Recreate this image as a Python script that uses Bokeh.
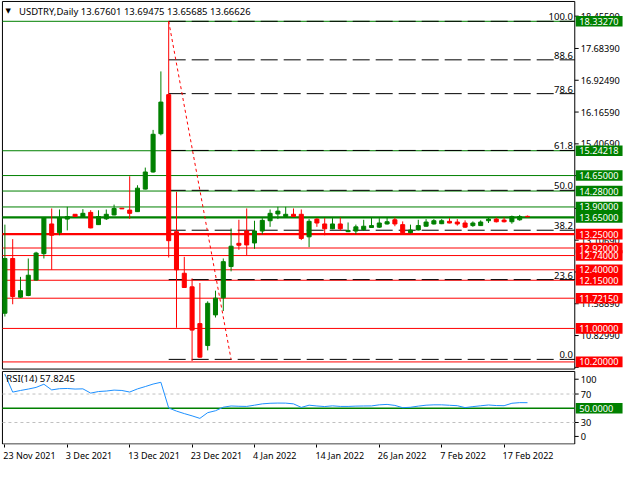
from bokeh.plotting import figure
from bokeh.layouts import column
from bokeh.models import ColumnDataSource, FixedTicker, Label, Range1d
from bokeh.embed import file_html
from bokeh.resources import INLINE
from bokeh.core.properties import value

# ---------------- data ----------------
symbol_title = "USDTRY,Daily"
last_ohlc = ["13.67601", "13.69475", "13.65685", "13.66626"]

opens = [11.363, 12.670, 11.746, 11.786, 12.155, 12.785, 13.494, 13.286, 13.610, 13.725,
         13.663, 13.771, 13.478, 13.617, 13.709, 13.870, 13.825, 13.788, 14.326, 14.735,
         15.649, 16.582, 13.310, 12.317, 11.993, 11.115, 10.591, 11.323, 11.732, 12.478,
         13.032, 13.326, 13.040, 13.326, 13.571, 13.733, 13.672, 13.725, 13.725, 13.187,
         13.610, 13.494, 13.379, 13.494, 13.310, 13.326, 13.360, 13.410, 13.418, 13.494,
         13.594, 13.478, 13.286, 13.350, 13.440, 13.494, 13.500, 13.557, 13.540, 13.517,
         13.455, 13.455, 13.571, 13.610, 13.587, 13.547, 13.594, 13.67601]
highs = [13.478, 13.132, 12.231, 12.670, 12.830, 13.660, 13.864, 13.840, 13.903, 13.730,
         13.848, 13.824, 13.820, 13.840, 13.956, 13.875, 14.633, 14.418, 14.840, 15.740,
         17.136, 18.3327, 14.263, 12.709, 12.194, 12.085, 11.647, 11.901, 12.670, 13.386,
         13.594, 13.864, 13.571, 13.633, 13.840, 13.903, 13.903, 13.864, 13.840, 13.610,
         13.633, 13.633, 13.633, 13.649, 13.530, 13.479, 13.594, 13.655, 13.633, 13.649,
         13.649, 13.555, 13.478, 13.594, 13.610, 13.610, 13.610, 13.633, 13.610, 13.580,
         13.555, 13.580, 13.655, 13.649, 13.649, 13.695, 13.710, 13.69475]
lows = [11.284, 11.577, 11.730, 11.770, 12.140, 12.670, 12.400, 13.224, 13.340, 13.665,
        13.655, 13.390, 13.470, 13.590, 13.700, 13.850, 13.617, 13.780, 14.320, 14.720,
        15.610, 12.693, 11.016, 11.970, 10.222, 10.300, 10.476, 11.261, 11.416, 12.363,
        12.878, 12.748, 12.901, 13.247, 13.425, 13.610, 13.660, 13.660, 13.109, 12.940,
        13.425, 13.224, 13.370, 13.330, 13.300, 13.247, 13.330, 13.400, 13.400, 13.480,
        13.440, 13.270, 13.270, 13.340, 13.430, 13.480, 13.490, 13.510, 13.455, 13.400,
        13.425, 13.445, 13.517, 13.530, 13.530, 13.500, 13.571, 13.65685]
closes = [12.670, 11.762, 11.901, 12.270, 12.800, 13.649, 13.224, 13.649, 13.672, 13.672,
          13.748, 13.400, 13.672, 13.725, 13.864, 13.855, 13.748, 14.349, 14.735, 15.635,
          16.404, 13.095, 12.400, 11.977, 10.960, 10.314, 11.600, 11.723, 12.594, 12.963,
          12.986, 12.993, 13.326, 13.580, 13.748, 13.801, 13.725, 13.672, 13.148, 13.557,
          13.517, 13.379, 13.494, 13.379, 13.340, 13.425, 13.440, 13.455, 13.517, 13.547,
          13.494, 13.286, 13.350, 13.455, 13.540, 13.571, 13.571, 13.517, 13.494, 13.418,
          13.517, 13.540, 13.610, 13.547, 13.547, 13.672, 13.672, 13.66626]
rsi_values = [98.0, 72.7, 75.0, 77.0, 79.3, 83.8, 75.8, 77.5, 77.8, 77.0,
              77.3, 71.3, 73.5, 74.2, 75.5, 75.0, 72.8, 77.2, 80.5, 84.0,
              86.5, 50.4, 46.0, 42.5, 39.3, 35.8, 43.8, 46.5, 51.5, 53.2,
              52.8, 52.6, 54.3, 56.2, 57.0, 57.3, 57.2, 56.2, 51.2, 54.3,
              53.2, 52.4, 53.4, 52.6, 52.6, 53.0, 53.2, 53.3, 54.8, 55.4,
              54.0, 50.8, 51.4, 53.0, 54.3, 54.8, 54.8, 54.2, 53.6, 50.9,
              52.3, 53.5, 54.6, 53.8, 53.6, 57.0, 57.9, 57.8245]
rsi_title = "RSI(14) 57.8245"

date_tick_bars = [0, 8, 16, 24, 32, 40, 48, 56, 64]
date_tick_labels = ["23 Nov 2021", "3 Dec 2021", "13 Dec 2021", "23 Dec 2021", "4 Jan 2022",
                    "14 Jan 2022", "26 Jan 2022", "7 Feb 2022", "17 Feb 2022"]

price_ticks = [18.4559, 17.6839, 16.9249, 16.1659, 15.4069, 14.6479, 13.8659,
               13.1069, 12.3479, 11.5889, 10.8299, 10.0709]

green_levels = [18.3327, 15.24218, 14.65, 14.28, 13.90, 13.65]
red_levels = [13.25, 12.92, 12.74, 12.40, 12.15, 11.7215, 11.00, 10.20]
thick_levels = [13.65, 13.25]

fib_ratios = [0.0, 23.6, 38.2, 50.0, 61.8, 78.6, 88.6, 100.0]
fib_high = 18.3327
fib_low = 10.261
fib_bar_high = 21
fib_bar_low = 29

rsi_dashed_levels = [30, 70]
rsi_mid_level = 50
rsi_axis_values = [0, 30, 70, 100]

# ---------------- layout / calibration (reference pixels -> data) ----------------
W = 624
MAIN_H, RSI_H, RSI_AXIS_H = 370, 94, 19
GREEN, RED, BLUE, SILVER = "#008000", "#FF0000", "#1E90FF", "#C0C0C0"
FONT = "Noto Sans"
FS = "9.5px"
TAG_FS = "9.2px"
BAR_REF, BAR0_REF_X = 8.0, 4.5
AX_REF_X = 589          # price-scale line in the reference
TAG_HALF_REF = 5.5      # half height of a price tag, reference px


def bx(xr):
    """reference x pixel -> bar coordinate"""
    return (xr - BAR0_REF_X) / BAR_REF


def py(yr):
    """reference y pixel -> price (main panel)"""
    return 18.3327 - (yr - 21.5) / 43.3


def ry(yr):
    """reference y pixel -> RSI value (indicator panel)"""
    return 50 - (yr - 422.3) / 0.75


PRICE_PER_REF = 1 / 43.3
RSI_PER_REF = 1 / 0.75

xr = Range1d(bx(0), bx(640))
frame_l, frame_r = bx(2), bx(AX_REF_X)


def text_glyph(fig, xs, ys, texts, color="black", align="left", baseline="middle", fs=FS):
    fig.text(x=xs, y=ys, text=texts, text_font=value(FONT), text_font_size=value(fs),
             text_color=color, text_align=align, text_baseline=baseline)


def price_scale(fig, ticks, labels, label_floor):
    fig.segment(x0=[bx(AX_REF_X)] * len(ticks), x1=[bx(AX_REF_X + 4)] * len(ticks),
                y0=ticks, y1=ticks, line_color="black", line_width=1)
    # a label that would run past the panel's lower edge is nudged up to stay visible
    text_glyph(fig, [bx(595)] * len(ticks), [max(t, label_floor) for t in ticks], labels,
               fs=TAG_FS)


def tags(fig, ys, labels, color, half):
    fig.quad(left=[bx(590)] * len(ys), right=[bx(638)] * len(ys),
             top=[v + half for v in ys], bottom=[v - half for v in ys],
             fill_color=color, line_color=None)
    text_glyph(fig, [bx(593.5)] * len(ys), ys, labels, color="white", fs=TAG_FS)


# ---------------- main price panel ----------------
p = figure(width=W, height=MAIN_H, x_range=xr, y_range=Range1d(py(382.5), py(0)),
           output_backend="svg", toolbar_location=None, tools="",
           x_axis_location=None, y_axis_location=None, min_border=0,
           background_fill_color="white", border_fill_color="white",
           outline_line_color=None)
p.grid.visible = False

# panel frame (right edge = price scale line)
p.quad(left=[frame_l], right=[frame_r], top=[py(1)], bottom=[py(381)],
       fill_color=None, line_color="black", line_width=1)

# horizontal support / resistance lines
lv = green_levels + red_levels
lv_src = ColumnDataSource(dict(
    y=lv,
    color=[GREEN] * len(green_levels) + [RED] * len(red_levels),
    lw=[2.2 if v in thick_levels else 1 for v in lv]))
p.segment(x0=frame_l, x1=frame_r, y0="y", y1="y", line_color="color", line_width="lw",
          source=lv_src)

# fibonacci retracement
fib_prices = [fib_low + r / 100.0 * (fib_high - fib_low) for r in fib_ratios]
fib_src = ColumnDataSource(dict(y=fib_prices, label=["%.1f" % r for r in fib_ratios]))
p.segment(x0=fib_bar_high, x1=frame_r, y0="y", y1="y", line_color="black", line_width=1,
          line_dash="17 6", source=fib_src)
p.text(x=bx(587), y="y", text="label", source=fib_src, text_align="right",
       text_baseline="bottom", text_font=value(FONT), text_font_size=value(FS),
       text_color="black", y_offset=-1)
p.segment(x0=[fib_bar_high], y0=[fib_high], x1=[fib_bar_low], y1=[fib_low],
          line_color=RED, line_width=1, line_dash="3 3")

# candles
bars = list(range(len(opens)))
colors = [GREEN if c >= o else RED for o, c in zip(opens, closes)]
c_src = ColumnDataSource(dict(x=bars, o=opens, h=highs, l=lows, c=closes, color=colors,
                              top=[max(o, c) for o, c in zip(opens, closes)],
                              bot=[min(o, c) for o, c in zip(opens, closes)]))
p.segment(x0="x", x1="x", y0="l", y1="h", line_color="color", line_width=1, source=c_src)
p.vbar(x="x", width=0.52, top="top", bottom="bot", fill_color="color", line_color="color",
       line_width=1, source=c_src)

# header
p.add_layout(Label(x=bx(5), y=py(11), text="\u25bc", text_font="DejaVu Sans",
                   text_font_size="7px", text_color="black", text_baseline="middle"))
p.add_layout(Label(x=bx(19), y=py(11),
                   text=symbol_title + "  " + " ".join(last_ohlc), text_font=FONT,
                   text_font_size=FS, text_color="black", text_baseline="middle"))

# price scale and tags
price_scale(p, price_ticks, ["%.5f" % v for v in price_ticks], py(375.5))
tags(p, green_levels, ["%.5f" % v for v in green_levels], GREEN, TAG_HALF_REF * PRICE_PER_REF)
tags(p, red_levels, ["%.5f" % v for v in red_levels], RED, TAG_HALF_REF * PRICE_PER_REF)

# ---------------- RSI panel ----------------
p2 = figure(width=W, height=RSI_H, x_range=xr, y_range=Range1d(ry(460.5), ry(382.5)),
            output_backend="svg", toolbar_location=None, tools="",
            x_axis_location="below", y_axis_location=None,
            min_border=0, min_border_bottom=RSI_AXIS_H,
            background_fill_color="white", border_fill_color="white",
            outline_line_color=None)
p2.grid.visible = False

p2.quad(left=[frame_l], right=[frame_r], top=[ry(383.5)], bottom=[ry(460)],
        fill_color=None, line_color="black", line_width=1)
p2.segment(x0=frame_l, x1=frame_r, y0=rsi_dashed_levels, y1=rsi_dashed_levels,
           line_color=SILVER, line_width=1, line_dash="3 3")
p2.segment(x0=frame_l, x1=frame_r, y0=[rsi_mid_level], y1=[rsi_mid_level],
           line_color=GREEN, line_width=1.6)
p2.line(x=bars, y=rsi_values, line_color=BLUE, line_width=1)
p2.add_layout(Label(x=bx(6), y=ry(391), text=rsi_title, text_font=FONT,
                    text_font_size=FS, text_color="black", text_baseline="middle"))

# RSI value scale: edge labels sit inside the panel, as in the terminal
rsi_tick_pos = {0: ry(452), 30: 30, 70: 70, 100: ry(391.7)}
price_scale(p2, [rsi_tick_pos[v] for v in rsi_axis_values], [str(v) for v in rsi_axis_values],
            ry(460))
tags(p2, [rsi_mid_level], ["%.4f" % rsi_mid_level], GREEN, TAG_HALF_REF * RSI_PER_REF)

# date axis: tick marks at the bars, labels start at the tick (left aligned)
CHAR_W = {" ": 0.26, "N": 0.742, "o": 0.602, "v": 0.5, "D": 0.744, "e": 0.564, "c": 0.48,
          "J": 0.27, "a": 0.561, "n": 0.618, "F": 0.517, "b": 0.613}
DATE_FS = 9.0
PX_PER_BAR = BAR_REF * W / 640.0


def text_px(s):
    return sum(CHAR_W.get(ch, 0.572) for ch in s) * DATE_FS


centers = [round(b - 0.19 + text_px(t) / 2.0 / PX_PER_BAR, 3)
           for b, t in zip(date_tick_bars, date_tick_labels)]
xa = p2.xaxis[0]
xa.ticker = FixedTicker(ticks=centers, minor_ticks=date_tick_bars)
xa.major_label_overrides = {c: t for c, t in zip(centers, date_tick_labels)}
xa.major_tick_out, xa.major_tick_in = 0, 0
xa.minor_tick_out, xa.minor_tick_in = 3, 0
xa.minor_tick_line_color = "black"
xa.axis_line_color = None
xa.major_label_standoff = 1
xa.major_label_text_font = FONT
xa.major_label_text_font_size = "%gpx" % DATE_FS
xa.major_label_text_color = "black"

layout = column(p, p2)
open("out.html", "w").write(file_html(layout, INLINE))
